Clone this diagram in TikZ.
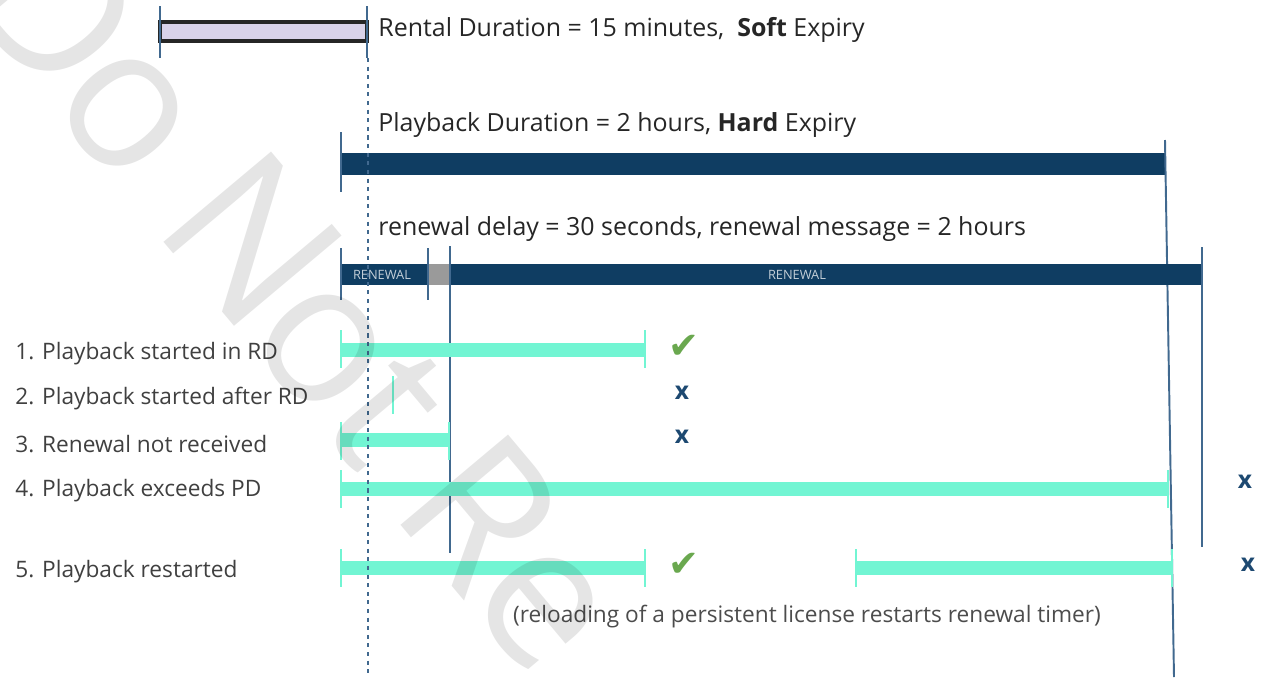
\documentclass[tikz,border=0pt]{standalone}
\usepackage{fontspec}
\setmainfont{Open Sans}
\newfontfamily\symfont{DejaVu Sans}
\newfontfamily\wmfont[LetterSpace=-3]{Open Sans}
\usetikzlibrary{positioning}
\definecolor{pdnavy}{HTML}{0F3D62}
\definecolor{tickblue}{HTML}{41698F}
\definecolor{playteal}{HTML}{72F5D3}
\definecolor{rdlilac}{HTML}{D9D2E9}
\definecolor{gapgray}{HTML}{9A9A9A}
\definecolor{labelgray}{HTML}{404040}
\definecolor{okgreen}{HTML}{6AA84F}
\definecolor{failblue}{HTML}{1D4971}
\tikzset{
  durtext/.style={anchor=west, inner sep=0pt, text=black!85, font=\fontsize{14.2}{16}\selectfont},
  rowlabel/.style={anchor=west, inner sep=0pt, text=labelgray, font=\fontsize{12.9}{14}\selectfont},
  rentag/.style={inner sep=0pt, text=white!75!pdnavy, font=\fontsize{7.3}{8}\selectfont},
  endtick/.style={draw=tickblue, line width=1.1pt},
  playtick/.style={draw=playteal, line width=0.9pt},
  rdline/.style={draw=tickblue, line width=1.1pt, dash pattern=on 2.3pt off 2.6pt},
  okmark/.style={inner sep=0pt, text=okgreen, font=\symfont\fontsize{21}{21}\selectfont},
  failmark/.style={inner sep=0pt, text=failblue, font=\bfseries\fontsize{14}{14}\selectfont},
  wmark/.style={inner sep=0pt, text=black, text opacity=0.1, font=\wmfont\fontsize{112}{112}\selectfont}
}
\begin{document}
\begin{tikzpicture}[x=0.02cm, y=-0.02cm]
  \useasboundingbox (0,0) rectangle (1262,677);
  \clip (0,0) rectangle (1262,677);

  % rental duration
  \filldraw[fill=rdlilac, draw=black!85, line width=2pt] (160,22) rectangle (367,41);
  \draw[endtick] (160,6) -- (160,58);
  \draw[endtick] (367,6) -- (367,58);
  \node[durtext] (rdtext) at (378,30) {Rental Duration = 15 minutes,\ \ \textbf{Soft} Expiry};

  % playback duration
  \node[durtext] (pdtext) at (378,125) {Playback Duration = 2 hours, \textbf{Hard} Expiry};
  \fill[pdnavy] (341,153) rectangle (1166,175);
  \draw[endtick] (341,132) -- (341,192);
  \draw[endtick] (1165,140) -- (1174,677);

  % renewal
  \node[durtext] (rentext) at (378,229) {renewal delay = 30 seconds, renewal message = 2 hours};
  \fill[pdnavy] (341,264) rectangle (428,285);
  \fill[gapgray] (428,264) rectangle (450,285);
  \fill[pdnavy] (450,264) rectangle (1202,285);
  \node[rentag] (ren1) at (382,275) {RENEWAL};
  \node[rentag] (ren2) at (797,275) {RENEWAL};
  \draw[endtick] (341,248) -- (341,300);
  \draw[endtick] (428,248) -- (428,300);
  \draw[endtick] (450,246) -- (450,553);
  \draw[endtick] (1202,247) -- (1202,547);

  % cases
  \node[rowlabel] (row1) at (15,354) {1. Playback started in RD};
  \node[rowlabel] (row2) at (15,399) {2. Playback started after RD};
  \node[rowlabel] (row3) at (15,444) {3. Renewal not received};
  \node[rowlabel] (row4) at (15,491) {4. Playback exceeds PD};
  \node[rowlabel] (row5) at (15,572) {5. Playback restarted};

  \fill[playteal] (341,343) rectangle (645,357);
  \draw[playtick] (341,330) -- (341,368);
  \draw[playtick] (645,330) -- (645,368);
  \draw[playtick] (393,376) -- (393,414);
  \fill[playteal] (341,433) rectangle (450,447);
  \draw[playtick] (341,422) -- (341,460);
  \draw[playtick] (449,422) -- (449,460);
  \fill[playteal] (341,482) rectangle (1168,496);
  \draw[playtick] (341,470) -- (341,508);
  \draw[playtick] (1168,470) -- (1168,508);
  \fill[playteal] (341,561) rectangle (645,575);
  \draw[playtick] (341,549) -- (341,587);
  \draw[playtick] (645,549) -- (645,587);
  \fill[playteal] (856,561) rectangle (1172,575);
  \draw[playtick] (856,549) -- (856,587);
  \draw[playtick] (1172,549) -- (1172,587);

  \draw[rdline] (368,58) -- (368,677);

  \node[okmark] (ok1) at (684,347) {✔};
  \node[failmark] (x2) at (682,393) {x};
  \node[failmark] (x3) at (682,437) {x};
  \node[failmark] (x4) at (1245,482) {x};
  \node[failmark] (x5) at (1248,565) {x};
  \node[okmark] (ok5) at (684,565) {✔};
  \node[rowlabel, anchor=center, text=black!70] (note) at (807,617) {(reloading of a persistent license restarts renewal timer)};

  % watermark
  \node[wmark, anchor=base west, rotate=-50] (wm) at (-43,-4) {Do Not Re};
\end{tikzpicture}
\end{document}
